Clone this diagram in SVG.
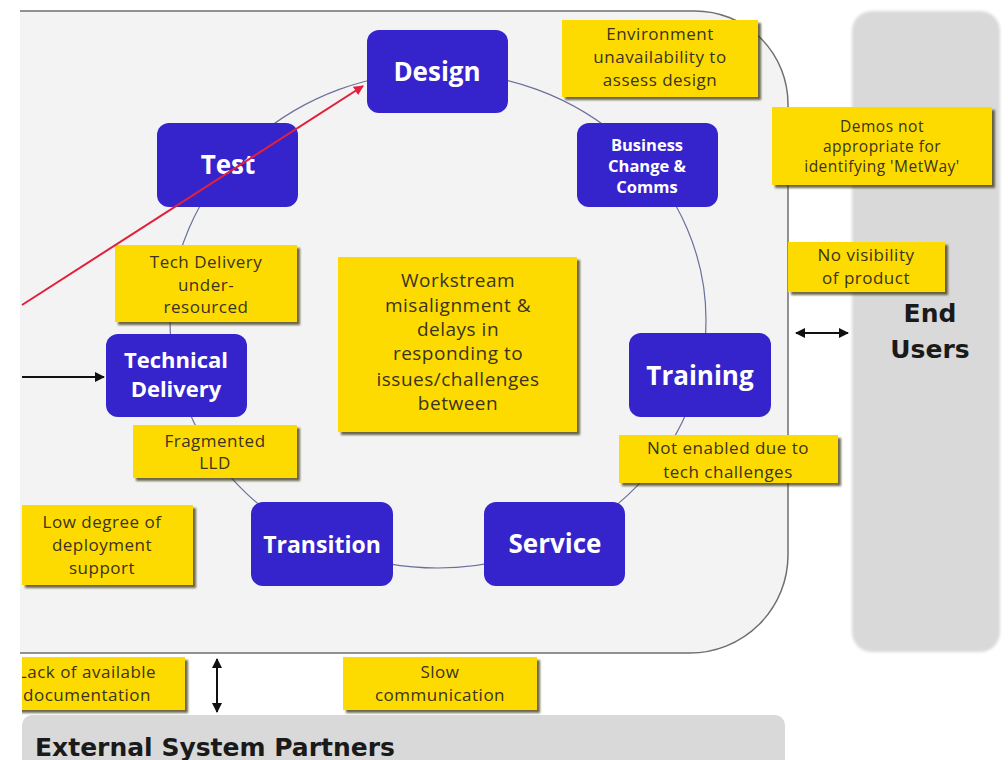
<svg xmlns="http://www.w3.org/2000/svg" width="1008" height="760" viewBox="0 0 1008 760">
  <defs>
    <style>
      .node rect { fill: #3524cc; }
      .node text { font-family: "Open Sans", "Liberation Sans", sans-serif; font-weight: 700; fill: #ffffff; text-anchor: middle; }
      .note rect { fill: #fedb00; filter: url(#noteShadow); }
      .note text { font-family: "Open Sans", "Liberation Sans", sans-serif; font-size: 17px; letter-spacing: 0.5px; fill: #3a3320; text-anchor: middle; }
      .note .small { font-size: 15.5px; }
      .note .large { font-size: 19px; }
      .panel-title { font-family: "DejaVu Sans", "Liberation Sans", sans-serif; font-weight: 700; font-size: 25px; fill: #1a1a1a; }
      .cycle { fill: none; stroke: #6a7099; stroke-width: 1.2; }
      .link { fill: none; stroke: #111111; stroke-width: 2; }
    </style>
    <filter id="noteShadow" x="-10%" y="-10%" width="125%" height="130%">
      <feDropShadow dx="3" dy="3" stdDeviation="1.2" flood-color="#3d3418" flood-opacity="0.75"/>
    </filter>
    <filter id="soft" x="-5%" y="-5%" width="110%" height="110%">
      <feGaussianBlur stdDeviation="1.5"/>
    </filter>
    <marker id="headBlack" viewBox="0 0 10 10" refX="9" refY="5" markerWidth="5" markerHeight="5" orient="auto-start-reverse" markerUnits="strokeWidth">
      <path d="M0,0 L10,5 L0,10 Z" fill="#111111"/>
    </marker>
    <marker id="headRed" viewBox="0 0 10 10" refX="9" refY="5" markerWidth="5" markerHeight="5" orient="auto" markerUnits="strokeWidth">
      <path d="M0,0 L10,5 L0,10 Z" fill="#e0203c"/>
    </marker>
    <clipPath id="frame">
      <rect x="22" y="0" width="986" height="760"/>
    </clipPath>
  </defs>

  <rect x="0" y="0" width="1008" height="760" fill="#ffffff"/>

  <!-- delivery area -->
  <g id="delivery-area">
    <path d="M20,11 H695 A93,93 0 0 1 788,104 V555 A98,98 0 0 1 690,653 H20 Z" fill="#f3f3f3"/>
    <path d="M20,11 H695 A93,93 0 0 1 788,104 V555 A98,98 0 0 1 690,653 H20" fill="none" stroke="#6f6f6f" stroke-width="1.5"/>
  </g>

  <!-- side and bottom parties -->
  <g id="end-users">
    <rect x="852" y="11" width="148" height="641" rx="20" fill="#d9d9d9" filter="url(#soft)"/>
    <text class="panel-title" x="930" y="322" text-anchor="middle">End</text>
    <text class="panel-title" x="930" y="358" text-anchor="middle">Users</text>
  </g>
  <g id="external-partners">
    <rect x="22" y="715" width="763" height="60" rx="10" fill="#d9d9d9"/>
    <text class="panel-title" x="35" y="756">External System Partners</text>
  </g>

  <!-- delivery cycle ring -->
  <ellipse class="cycle" cx="438" cy="320" rx="268" ry="248"/>

  <!-- workstream nodes -->
  <g id="design" class="node">
    <rect x="367" y="30" width="141" height="83" rx="12"/>
    <text x="437" y="81" font-size="26">Design</text>
  </g>
  <g id="test" class="node">
    <rect x="157" y="123" width="141" height="84" rx="12"/>
    <text x="228" y="174" font-size="26">Test</text>
  </g>
  <g id="business-change" class="node">
    <rect x="577" y="123" width="141" height="84" rx="12"/>
    <text x="647" y="151" font-size="16.5">Business</text>
    <text x="647" y="172" font-size="16.5">Change &amp;</text>
    <text x="647" y="193" font-size="16.5">Comms</text>
  </g>
  <g id="technical-delivery" class="node">
    <rect x="106" y="334" width="141" height="83" rx="12"/>
    <text x="176" y="368" font-size="22">Technical</text>
    <text x="176" y="397" font-size="22">Delivery</text>
  </g>
  <g id="training" class="node">
    <rect x="629" y="333" width="142" height="84" rx="12"/>
    <text x="700" y="385" font-size="26">Training</text>
  </g>
  <g id="transition" class="node">
    <rect x="251" y="502" width="142" height="84" rx="12"/>
    <text x="322" y="553" font-size="23">Transition</text>
  </g>
  <g id="service" class="node">
    <rect x="484" y="502" width="141" height="84" rx="12"/>
    <text x="555" y="553" font-size="26">Service</text>
  </g>

  <!-- issue notes -->
  <g id="note-environment" class="note">
    <rect x="562" y="20" width="196" height="77"/>
    <text x="660" y="40">Environment</text>
    <text x="660" y="63">unavailability to</text>
    <text x="660" y="86">assess design</text>
  </g>
  <g id="note-demos" class="note">
    <rect x="772" y="107" width="220" height="78"/>
    <text class="small" x="882" y="132">Demos not</text>
    <text class="small" x="882" y="152">appropriate for</text>
    <text class="small" x="882" y="172">identifying 'MetWay'</text>
  </g>
  <g id="note-visibility" class="note">
    <rect x="788" y="242" width="157" height="50"/>
    <text x="866" y="261">No visibility</text>
    <text x="866" y="284">of product</text>
  </g>
  <g id="note-tech-delivery" class="note">
    <rect x="115" y="245" width="182" height="77"/>
    <text x="206" y="268">Tech Delivery</text>
    <text x="206" y="291">under-</text>
    <text x="206" y="313">resourced</text>
  </g>
  <g id="note-workstream" class="note">
    <rect x="338" y="257" width="239" height="175"/>
    <text class="large" x="458" y="287">Workstream</text>
    <text class="large" x="458" y="312">misalignment &amp;</text>
    <text class="large" x="458" y="336">delays in</text>
    <text class="large" x="458" y="360">responding to</text>
    <text class="large" x="458" y="386">issues/challenges</text>
    <text class="large" x="458" y="410">between</text>
  </g>
  <g id="note-fragmented" class="note">
    <rect x="133" y="425" width="164" height="53"/>
    <text x="215" y="447">Fragmented</text>
    <text x="215" y="469">LLD</text>
  </g>
  <g id="note-training" class="note">
    <rect x="619" y="435" width="219" height="48"/>
    <text x="728" y="454">Not enabled due to</text>
    <text x="728" y="478">tech challenges</text>
  </g>
  <g id="note-deployment" class="note">
    <rect x="22" y="505" width="171" height="80"/>
    <text x="102" y="528">Low degree of</text>
    <text x="102" y="551">deployment</text>
    <text x="102" y="574">support</text>
  </g>
  <g id="note-documentation" class="note" clip-path="url(#frame)">
    <rect x="14" y="657" width="171" height="53"/>
    <text x="87" y="678">Lack of available</text>
    <text x="87" y="701">documentation</text>
  </g>
  <g id="note-communication" class="note">
    <rect x="343" y="657" width="194" height="53"/>
    <text x="440" y="678">Slow</text>
    <text x="440" y="701">communication</text>
  </g>

  <!-- connectors -->
  <g id="connectors">
    <line class="link" x1="22" y1="377" x2="104" y2="377" marker-end="url(#headBlack)"/>
    <line class="link" x1="796" y1="333" x2="848" y2="333" marker-start="url(#headBlack)" marker-end="url(#headBlack)"/>
    <line class="link" x1="217" y1="659" x2="217" y2="712" marker-start="url(#headBlack)" marker-end="url(#headBlack)"/>
    <line x1="22" y1="305" x2="363" y2="86" stroke="#e0203c" stroke-width="2" marker-end="url(#headRed)"/>
  </g>
</svg>
